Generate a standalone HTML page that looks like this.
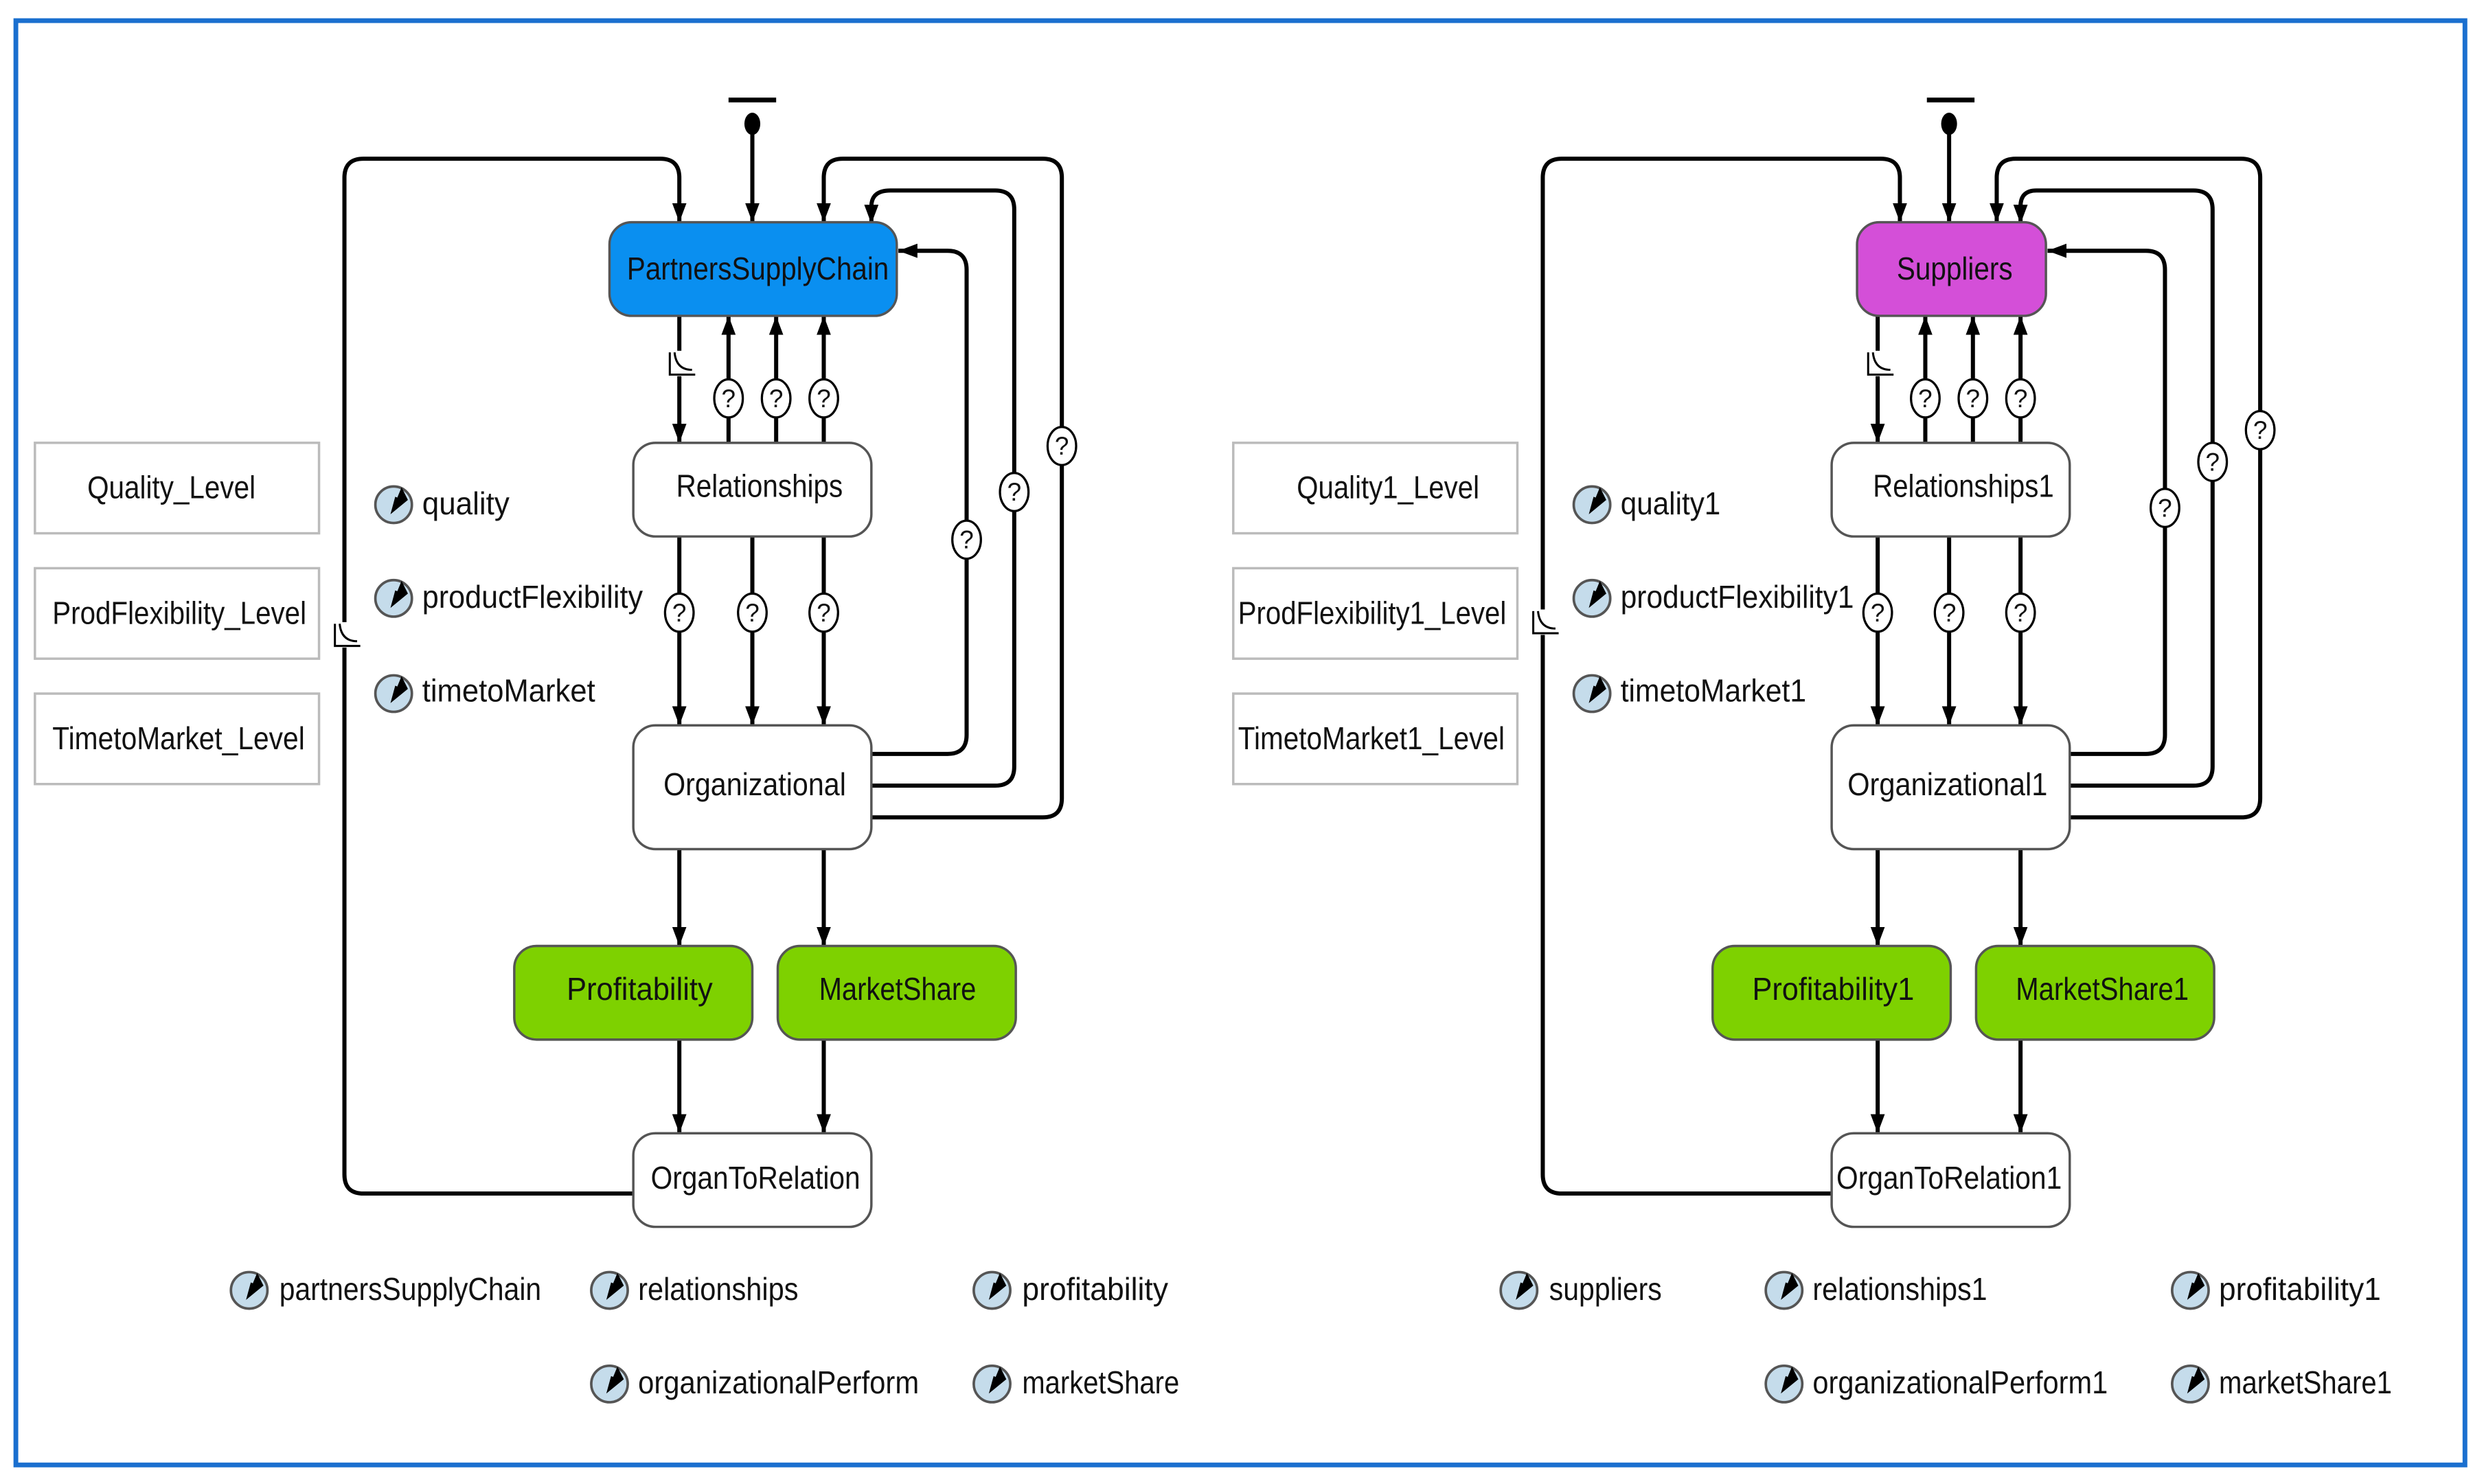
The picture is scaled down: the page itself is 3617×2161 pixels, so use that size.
<!DOCTYPE html>
<html><head><meta charset="utf-8"><style>
html,body{margin:0;padding:0;background:#fff;}
svg{display:block;}
text{font-family:"Liberation Sans Narrow","Liberation Sans",sans-serif;fill:#111;}
</style></head><body>
<svg width="3617" height="2161" viewBox="0 0 1565 935" xmlns="http://www.w3.org/2000/svg">
<defs>
<marker id="a" markerWidth="12" markerHeight="9" refX="12" refY="4.5" orient="auto" markerUnits="userSpaceOnUse">
<path d="M0,0 L12,4.5 L0,9 z" fill="#000"/></marker>
<g id="ic"><circle cx="0" cy="0" r="11.5" fill="#c5dceb" stroke="#555" stroke-width="1.6"/>
<path d="M-2,6 L5,-11 L9,-3 z M-2,6 L1,-5 L6,-3 z" fill="#000"/></g>
<g id="q"><ellipse cx="0" cy="0" rx="9" ry="12" fill="#fff" stroke="#000" stroke-width="1.4"/>
<text x="0" y="5.5" font-size="16" text-anchor="middle">?</text></g>
<g id="hz"><rect x="-2" y="-8" width="4" height="16" fill="#fff"/><path d="M-6,-7 V7 H10 M-3,-7 Q-2,4 8,4" fill="none" stroke="#000" stroke-width="1.3"/></g>
</defs>
<rect x="0" y="0" width="1565" height="935" fill="#fff"/>
<rect x="10" y="13" width="1543" height="910" fill="none" stroke="#1a6fcf" stroke-width="3"/>

<g fill="none" stroke="#000" stroke-width="2.6">
<path d="M459,63 H489" stroke-width="3"/>
<path d="M474,80 V140" marker-end="url(#a)"/>
<path d="M399,752 H229 Q217,752 217,740 V112 Q217,100 229,100 H416 Q428,100 428,112 V140" marker-end="url(#a)"/>
<path d="M549,475 H597 Q609,475 609,463 V170 Q609,158 597,158 H566" marker-end="url(#a)"/>
<path d="M549,495 H627 Q639,495 639,483 V132 Q639,120 627,120 H561 Q549,120 549,130 V141" marker-end="url(#a)"/>
<path d="M549,515 H657 Q669,515 669,503 V112 Q669,100 657,100 H531 Q519,100 519,112 V140" marker-end="url(#a)"/>
<path d="M428,199 V279" marker-end="url(#a)"/>
<path d="M459,279 V199" marker-end="url(#a)"/>
<path d="M489,279 V199" marker-end="url(#a)"/>
<path d="M519,279 V199" marker-end="url(#a)"/>
<path d="M428,338 V457" marker-end="url(#a)"/>
<path d="M474,338 V457" marker-end="url(#a)"/>
<path d="M519,338 V457" marker-end="url(#a)"/>
<path d="M428,535 V596" marker-end="url(#a)"/>
<path d="M519,535 V596" marker-end="url(#a)"/>
<path d="M428,655 V714" marker-end="url(#a)"/>
<path d="M519,655 V714" marker-end="url(#a)"/>
<path d="M1214,63 H1244" stroke-width="3"/>
<path d="M1228,80 V140" marker-end="url(#a)"/>
<path d="M1154,752 H984 Q972,752 972,740 V112 Q972,100 984,100 H1185 Q1197,100 1197,112 V140" marker-end="url(#a)"/>
<path d="M1304,475 H1352 Q1364,475 1364,463 V170 Q1364,158 1352,158 H1290" marker-end="url(#a)"/>
<path d="M1304,495 H1382 Q1394,495 1394,483 V132 Q1394,120 1382,120 H1283 Q1273,120 1273,130 V141" marker-end="url(#a)"/>
<path d="M1304,515 H1412 Q1424,515 1424,503 V112 Q1424,100 1412,100 H1270 Q1258,100 1258,112 V140" marker-end="url(#a)"/>
<path d="M1183,199 V279" marker-end="url(#a)"/>
<path d="M1213,279 V199" marker-end="url(#a)"/>
<path d="M1243,279 V199" marker-end="url(#a)"/>
<path d="M1273,279 V199" marker-end="url(#a)"/>
<path d="M1183,338 V457" marker-end="url(#a)"/>
<path d="M1228,338 V457" marker-end="url(#a)"/>
<path d="M1273,338 V457" marker-end="url(#a)"/>
<path d="M1183,535 V596" marker-end="url(#a)"/>
<path d="M1273,535 V596" marker-end="url(#a)"/>
<path d="M1183,655 V714" marker-end="url(#a)"/>
<path d="M1273,655 V714" marker-end="url(#a)"/>
</g>
<ellipse cx="474" cy="78" rx="5" ry="7" fill="#000"/>
<ellipse cx="1228" cy="78" rx="5" ry="7" fill="#000"/>

<use href="#q" x="459" y="251"/><use href="#q" x="489" y="251"/><use href="#q" x="519" y="251"/>
<use href="#q" x="428" y="386"/><use href="#q" x="474" y="386"/><use href="#q" x="519" y="386"/>
<use href="#q" x="609" y="340"/><use href="#q" x="639" y="310"/><use href="#q" x="669" y="281"/>
<use href="#q" x="1213" y="251"/><use href="#q" x="1243" y="251"/><use href="#q" x="1273" y="251"/>
<use href="#q" x="1183" y="386"/><use href="#q" x="1228" y="386"/><use href="#q" x="1273" y="386"/>
<use href="#q" x="1364" y="320"/><use href="#q" x="1394" y="291"/><use href="#q" x="1424" y="271"/>
<use href="#hz" x="428" y="229"/><use href="#hz" x="1183" y="229"/>
<use href="#hz" x="217" y="400"/><use href="#hz" x="972" y="392"/>

<g stroke="#555" stroke-width="1.5">
<rect x="384" y="140" width="181" height="59" rx="14" fill="#0a8ff0"/>
<rect x="399" y="279" width="150" height="59" rx="14" fill="#fff"/>
<rect x="399" y="457" width="150" height="78" rx="14" fill="#fff"/>
<rect x="324" y="596" width="150" height="59" rx="14" fill="#7ed100"/>
<rect x="490" y="596" width="150" height="59" rx="14" fill="#7ed100"/>
<rect x="399" y="714" width="150" height="59" rx="14" fill="#fff"/>
<rect x="1170" y="140" width="119" height="59" rx="14" fill="#d44fd8"/>
<rect x="1154" y="279" width="150" height="59" rx="14" fill="#fff"/>
<rect x="1154" y="457" width="150" height="78" rx="14" fill="#fff"/>
<rect x="1079" y="596" width="150" height="59" rx="14" fill="#7ed100"/>
<rect x="1245" y="596" width="150" height="59" rx="14" fill="#7ed100"/>
<rect x="1154" y="714" width="150" height="59" rx="14" fill="#fff"/>
</g>
<g fill="#fff" stroke="#bbb" stroke-width="1.5">
<rect x="22" y="279" width="179" height="57"/><rect x="22" y="358" width="179" height="57"/><rect x="22" y="437" width="179" height="57"/>
<rect x="777" y="279" width="179" height="57"/><rect x="777" y="358" width="179" height="57"/><rect x="777" y="437" width="179" height="57"/>
</g>

<g font-size="20">
<text x="395" y="176" textLength="165" lengthAdjust="spacingAndGlyphs">PartnersSupplyChain</text>
<text x="426" y="313" textLength="105" lengthAdjust="spacingAndGlyphs">Relationships</text>
<text x="418" y="501" textLength="115" lengthAdjust="spacingAndGlyphs">Organizational</text>
<text x="357" y="630" textLength="92" lengthAdjust="spacingAndGlyphs">Profitability</text>
<text x="516" y="630" textLength="99" lengthAdjust="spacingAndGlyphs">MarketShare</text>
<text x="410" y="749" textLength="132" lengthAdjust="spacingAndGlyphs">OrganToRelation</text>
<text x="55" y="314" textLength="106" lengthAdjust="spacingAndGlyphs">Quality_Level</text>
<text x="33" y="393" textLength="160" lengthAdjust="spacingAndGlyphs">ProdFlexibility_Level</text>
<text x="33" y="472" textLength="159" lengthAdjust="spacingAndGlyphs">TimetoMarket_Level</text>
<text x="266" y="324" textLength="55" lengthAdjust="spacingAndGlyphs">quality</text>
<text x="266" y="383" textLength="139" lengthAdjust="spacingAndGlyphs">productFlexibility</text>
<text x="266" y="442" textLength="109" lengthAdjust="spacingAndGlyphs">timetoMarket</text>
<text x="176" y="819" textLength="165" lengthAdjust="spacingAndGlyphs">partnersSupplyChain</text>
<text x="402" y="819" textLength="101" lengthAdjust="spacingAndGlyphs">relationships</text>
<text x="644" y="819" textLength="92" lengthAdjust="spacingAndGlyphs">profitability</text>
<text x="402" y="878" textLength="177" lengthAdjust="spacingAndGlyphs">organizationalPerform</text>
<text x="644" y="878" textLength="99" lengthAdjust="spacingAndGlyphs">marketShare</text>

<text x="1195" y="176" textLength="73" lengthAdjust="spacingAndGlyphs">Suppliers</text>
<text x="1180" y="313" textLength="114" lengthAdjust="spacingAndGlyphs">Relationships1</text>
<text x="1164" y="501" textLength="126" lengthAdjust="spacingAndGlyphs">Organizational1</text>
<text x="1104" y="630" textLength="102" lengthAdjust="spacingAndGlyphs">Profitability1</text>
<text x="1270" y="630" textLength="109" lengthAdjust="spacingAndGlyphs">MarketShare1</text>
<text x="1157" y="749" textLength="142" lengthAdjust="spacingAndGlyphs">OrganToRelation1</text>
<text x="817" y="314" textLength="115" lengthAdjust="spacingAndGlyphs">Quality1_Level</text>
<text x="780" y="393" textLength="169" lengthAdjust="spacingAndGlyphs">ProdFlexibility1_Level</text>
<text x="780" y="472" textLength="168" lengthAdjust="spacingAndGlyphs">TimetoMarket1_Level</text>
<text x="1021" y="324" textLength="63" lengthAdjust="spacingAndGlyphs">quality1</text>
<text x="1021" y="383" textLength="147" lengthAdjust="spacingAndGlyphs">productFlexibility1</text>
<text x="1021" y="442" textLength="117" lengthAdjust="spacingAndGlyphs">timetoMarket1</text>
<text x="976" y="819" textLength="71" lengthAdjust="spacingAndGlyphs">suppliers</text>
<text x="1142" y="819" textLength="110" lengthAdjust="spacingAndGlyphs">relationships1</text>
<text x="1398" y="819" textLength="102" lengthAdjust="spacingAndGlyphs">profitability1</text>
<text x="1142" y="878" textLength="186" lengthAdjust="spacingAndGlyphs">organizationalPerform1</text>
<text x="1398" y="878" textLength="109" lengthAdjust="spacingAndGlyphs">marketShare1</text>
</g>

<use href="#ic" x="248" y="318"/><use href="#ic" x="248" y="377"/><use href="#ic" x="248" y="437"/>
<use href="#ic" x="157" y="813"/><use href="#ic" x="384" y="813"/><use href="#ic" x="625" y="813"/>
<use href="#ic" x="384" y="872"/><use href="#ic" x="625" y="872"/>
<use href="#ic" x="1003" y="318"/><use href="#ic" x="1003" y="377"/><use href="#ic" x="1003" y="437"/>
<use href="#ic" x="957" y="813"/><use href="#ic" x="1124" y="813"/><use href="#ic" x="1380" y="813"/>
<use href="#ic" x="1124" y="872"/><use href="#ic" x="1380" y="872"/>
</svg>
</body></html>
